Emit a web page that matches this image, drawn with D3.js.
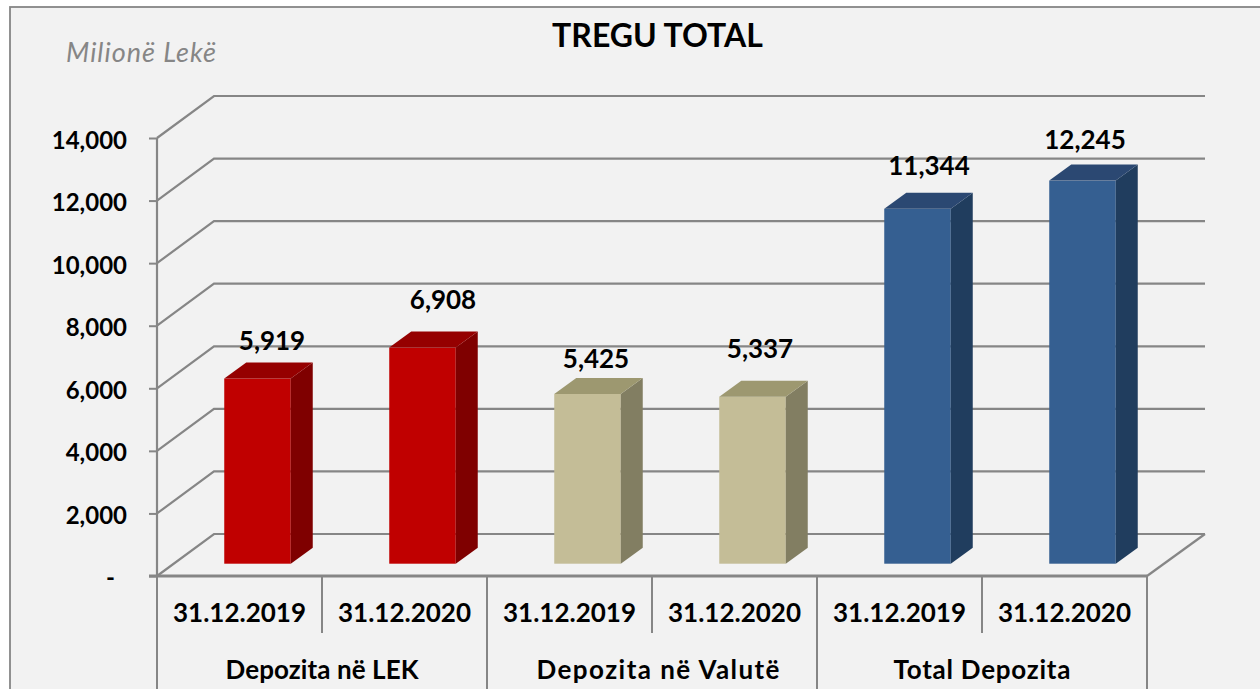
<!DOCTYPE html>
<html><head><meta charset="utf-8">
<script src="https://cdn.jsdelivr.net/npm/d3@7"></script>
<style>html,body{margin:0;padding:0;background:#fff}svg{display:block}text{font-family:Lato,"Open Sans",sans-serif}</style>
</head><body><svg id="c" width="1260" height="689"></svg>
<script>
const categories = ["a0","a1","b0","b1","c0","c1"];
const dates = ["31.12.2019","31.12.2020","31.12.2019","31.12.2020","31.12.2019","31.12.2020"];
const groups = ["Depozita në LEK","Depozita në Valutë","Total Depozita"];
const values = [5919,6908,5425,5337,11344,12245];
const labels = ["5,919","6,908","5,425","5,337","11,344","12,245"];
const yTicks = [0,2000,4000,6000,8000,10000,12000,14000];
const groupIndex = [0,0,1,1,2,2];
const fronts = ["#c00000","#c4bd97","#355f91"];
const sides  = ["#7f0000","#827e62","#203d5e"];
const tops   = ["#950000","#9d9870","#2b4872"];
const labelDX = [15,21,9,8,12,3];
const labelDY = [-22,-32,-20,-33,-28,-25];
const groupWidths = [193,243,177];
const groupDX = [0,6,0];

const svg = d3.select("#c");
const x = d3.scaleBand().domain(categories).range([157,1147]);
const y = d3.scaleLinear().domain([0,14000]).range([576,138]);
const depth = {x:57,y:-42}, barDepth = {x:22,y:-16};
const planeX = 18, planeY = -12.3, barW = 66.5;
const grid = "#868686";

svg.append("rect").attr("x",10).attr("y",7).attr("width",1260).attr("height",700)
  .attr("fill","#f2f2f2").attr("stroke",grid).attr("stroke-width",1.8);

// 3D gridlines
const g = svg.append("g").attr("fill","none").attr("stroke",grid).attr("stroke-width",2.2);
g.selectAll("polyline.g").data(yTicks).join("polyline").attr("class","g")
  .attr("points",d=>`${x.range()[0]},${y(d)} ${x.range()[0]+depth.x},${y(d)+depth.y} ${x.range()[1]+depth.x+1},${y(d)+depth.y}`);
g.append("line").attr("x1",x.range()[1]).attr("y1",y(0)).attr("x2",x.range()[1]+depth.x+1).attr("y2",y(0)+depth.y);

// bars
const bars = svg.append("g").selectAll("g").data(values).join("g");
const bx = (d,i)=>x(categories[i])+x.bandwidth()/2+planeX-barW/2;
bars.append("rect").attr("x",bx).attr("y",d=>y(d)+planeY).attr("width",barW)
  .attr("height",d=>y(0)-y(d)).attr("fill",(d,i)=>fronts[groupIndex[i]]);
bars.append("path").attr("fill",(d,i)=>sides[groupIndex[i]]).attr("d",(d,i)=>{
  const l=bx(d,i)+barW,t=y(d)+planeY,b=y(0)+planeY;
  return `M${l},${t}l${barDepth.x},${barDepth.y}L${l+barDepth.x},${b+barDepth.y}L${l},${b}Z`;});
bars.append("path").attr("fill",(d,i)=>tops[groupIndex[i]]).attr("d",(d,i)=>{
  const l=bx(d,i),t=y(d)+planeY;
  return `M${l},${t}l${barDepth.x},${barDepth.y}h${barW}l${-barDepth.x},${-barDepth.y}Z`;});
bars.append("text").attr("text-anchor","middle").attr("font-weight",700).attr("font-size",26).attr("fill","#000")
  .attr("x",(d,i)=>x(categories[i])+x.bandwidth()/2+17.5+labelDX[i])
  .attr("y",(d,i)=>y(d)-12.5+barDepth.y+labelDY[i]+10)
  .text((d,i)=>labels[i]);

// y axis
const ya = svg.append("g").attr("transform","translate(157,0)")
  .call(d3.axisLeft(y).tickValues(yTicks).tickSize(8).tickPadding(22).tickFormat(d=>d===0?"-":d3.format(",")(d)));
ya.select(".domain").attr("stroke",grid).attr("stroke-width",2.2).attr("d",`M0,${y(14000)}V${y(0)}`);
ya.selectAll(".tick line").attr("stroke",grid).attr("stroke-width",2);
ya.selectAll(".tick text").attr("font-size",24).attr("font-weight",700).attr("fill","#000").attr("font-family",'Lato,sans-serif')
  .attr("dy",d=>d===0?"0.4em":"0.42em").attr("x",d=>d===0?-42:-30);

// x axis, two-level
const xa = svg.append("g").attr("transform",`translate(0,${y(0)})`)
  .call(d3.axisBottom(x).tickSize(0).tickPadding(28).tickFormat((d,i)=>dates[i]));
xa.select(".domain").attr("stroke",grid).attr("stroke-width",3).attr("d",`M${157-8},0H1147`);
xa.selectAll(".tick text").attr("font-size",26).attr("font-weight",700).attr("fill","#000").attr("font-family",'Lato,sans-serif');

const sep = svg.append("g").attr("stroke",grid).attr("stroke-width",2);
const gx = d3.scaleBand().domain(groups).range(x.range());
sep.selectAll("line.s").data(categories.filter((c,i)=>i%2==0)).join("line").attr("class","s")
  .attr("x1",d=>x(d)+x.bandwidth()).attr("x2",d=>x(d)+x.bandwidth()).attr("y1",y(0)).attr("y2",633);
sep.selectAll("line.t").data([...groups.map(d=>gx(d)),x.range()[1]]).join("line").attr("class","t")
  .attr("x1",d=>d).attr("x2",d=>d).attr("y1",y(0)).attr("y2",689);
svg.append("g").selectAll("text").data(groups).join("text")
  .attr("x",(d,i)=>gx(d)+gx.bandwidth()/2+groupDX[i]).attr("y",679).attr("text-anchor","middle")
  .attr("font-size",26).attr("font-weight",700).attr("fill","#000")
  .attr("textLength",(d,i)=>groupWidths[i]).attr("lengthAdjust","spacing").text(d=>d);

svg.append("text").attr("x",657.5).attr("y",47).attr("text-anchor","middle").attr("font-size",32).attr("font-weight",700).attr("fill","#000").text("TREGU TOTAL");
svg.append("text").attr("x",66).attr("y",62).attr("font-size",27).attr("font-style","italic").attr("fill","#868686")
  .attr("textLength",150).attr("lengthAdjust","spacing").text("Milionë Lekë");
</script></body></html>
